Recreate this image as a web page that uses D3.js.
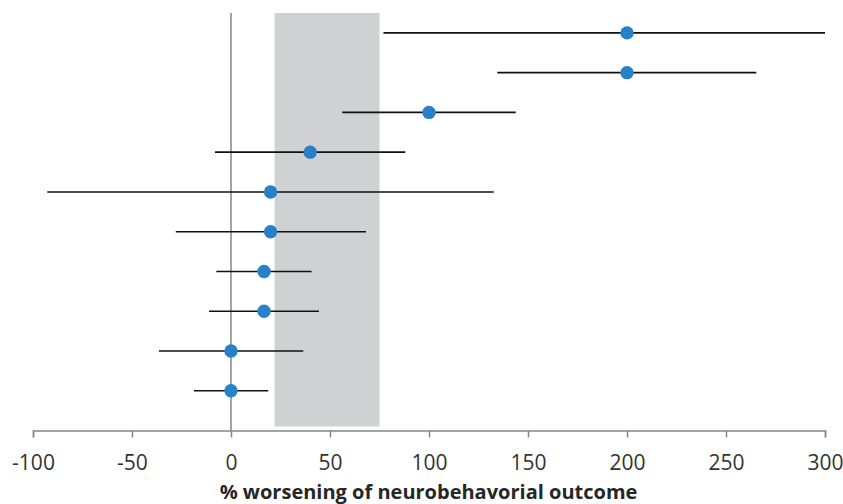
<!DOCTYPE html>
<html lang="en">
<head>
<meta charset="UTF-8">
<title>Forest plot</title>
<script src="https://cdn.jsdelivr.net/npm/d3@7"></script>
<style>
  body { margin: 0; background: #fff; }
  svg { display: block; }
  .tick text { font-family: "Open Sans", sans-serif; font-size: 21px; fill: #333; }
  .xlabel { font-family: "Open Sans", sans-serif; font-size: 20px; font-weight: bold; fill: #262626; }
</style>
</head>
<body>
<svg id="chart" width="843" height="504"></svg>
<script>
// estimates, top row first
let estimate = [200, 200, 100, 40, 20, 20, 16.7, 16.7, 0, 0]
let lower    = [77, 134.5, 56.2, -8.1, -92.8, -27.9, -7.4, -11.1, -36.4, -18.7]
let upper    = [300, 265.3, 143.8, 88, 132.7, 68.2, 40.7, 44.4, 36.5, 18.8]
let band     = [22, 75]
let xTicks   = [-100, -50, 0, 50, 100, 150, 200, 250, 300]
let xTitle   = '% worsening of neurobehavorial outcome'

let svg = d3.select('#chart')

let x = d3.scaleLinear().domain([-100, 300]).range([33, 825])
// rows placed at 10..1 on a 0..10.5 axis
let y = d3.scaleLinear().domain([0, 10.5]).range([430.5, 13])
let rowVal = function (i) { return estimate.length - i }

// shaded band
svg.append('rect')
    .attr('x', x(band[0]))
    .attr('width', x(band[1]) - x(band[0]))
    .attr('y', y(10.5))
    .attr('height', y(0.1) - y(10.5))
    .attr('fill', '#d0d1d3')

// zero line
svg.append('line')
    .attr('x1', x(0)).attr('x2', x(0))
    .attr('y1', y(10.5)).attr('y2', y(0))
    .attr('stroke', '#868686')
    .attr('stroke-width', 1.5)

// x axis
let xAxis = svg.append('g')
    .attr('transform', `translate(0,${y(0)})`)
    .call(d3.axisBottom(x).tickValues(xTicks).tickSize(7).tickPadding(18)
        .tickFormat(function (d) { return String(d) }))
xAxis.select('.domain').attr('stroke', '#868686').attr('stroke-width', 1.5)
xAxis.selectAll('.tick line').attr('stroke', '#868686').attr('stroke-width', 1.5)

// error bars
svg.append('g').selectAll('line')
    .data(estimate)
    .join('line')
    .attr('x1', function (d, i) { return x(lower[i]) })
    .attr('x2', function (d, i) { return x(upper[i]) })
    .attr('y1', function (d, i) { return y(rowVal(i)) })
    .attr('y2', function (d, i) { return y(rowVal(i)) })
    .attr('stroke', '#111')
    .attr('stroke-width', 1.6)

// points
svg.append('g').selectAll('circle')
    .data(estimate)
    .join('circle')
    .attr('cx', function (d) { return x(d) })
    .attr('cy', function (d, i) { return y(rowVal(i)) })
    .attr('r', 6.7)
    .attr('fill', '#2880c8')

// axis title
svg.append('text')
    .attr('class', 'xlabel')
    .attr('x', 428.5)
    .attr('y', 499)
    .attr('text-anchor', 'middle')
    .text(xTitle)
</script>
</body>
</html>
